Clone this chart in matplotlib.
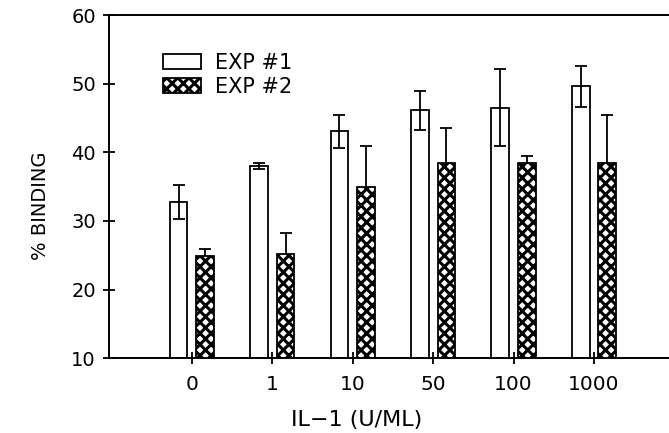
import matplotlib
matplotlib.use("Agg")
import matplotlib.pyplot as plt
import numpy as np

plt.rcParams["font.family"] = "sans-serif"
plt.rcParams["font.sans-serif"] = ["DejaVu Sans"]
plt.rcParams["hatch.linewidth"] = 2.2

# data
doses = ["0", "1", "10", "50", "100", "1000"]
exp1 = [32.8, 38.0, 43.1, 46.1, 46.5, 49.6]
exp1_err = [2.5, 0.5, 2.4, 2.8, 5.6, 3.0]
exp2 = [24.9, 25.2, 34.9, 38.5, 38.5, 38.4]
exp2_err = [1.0, 3.0, 6.0, 5.0, 1.0, 7.1]

fig = plt.figure(figsize=(6.69, 4.33), dpi=100)
ax = fig.add_axes([0.163, 0.173, 0.845, 0.792])

x = np.arange(len(doses))
w = 0.22
off = 0.165

ax.bar(x - off, exp1, w, bottom=0, color="white", edgecolor="black",
       linewidth=1.3, zorder=2, label="EXP #1")
ax.errorbar(x - off, exp1, yerr=exp1_err, fmt="none", ecolor="black",
            elinewidth=1.3, capsize=4, capthick=1.3, zorder=3)
ax.errorbar(x + off, exp2, yerr=exp2_err, fmt="none", ecolor="black",
            elinewidth=1.3, capsize=4, capthick=1.3, zorder=1)
ax.bar(x + off, exp2, w, bottom=0, color="white", edgecolor="black",
       hatch="xxx", linewidth=1.3, zorder=2, label="EXP #2")

ax.set_ylim(10, 60)
ax.set_xlim(-1.03, 6.0)
ax.set_yticks([10, 20, 30, 40, 50, 60])
ax.set_xticks(x)
ax.set_xticklabels(doses)

for s in ["left", "bottom", "top"]:
    ax.spines[s].set_linewidth(1.4)
ax.spines["right"].set_visible(False)
ax.tick_params(axis="both", direction="inout", length=9, width=1.3,
               labelsize=14, pad=5)
ax.tick_params(axis="x", labelsize=14.5, pad=8)

fig.text(40 / 669, 1 - 206 / 433, "% BINDING", rotation=90, ha="center",
         va="center", fontsize=14)
fig.text(357 / 669, 1 - 420 / 433, "IL\u22121 (U/ML)", ha="center",
         va="center", fontsize=16)

ax.legend(loc="upper left", bbox_to_anchor=(0.063, 0.945), frameon=False,
          fontsize=15, handlelength=1.8, handleheight=0.72,
          handletextpad=0.7, labelspacing=0.2)

fig.savefig("out.png", dpi=100)
